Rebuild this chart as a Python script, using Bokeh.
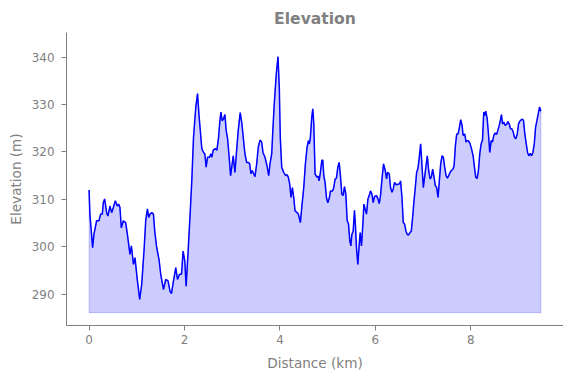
from bokeh.plotting import figure
from bokeh.models import Range1d, FixedTicker
from bokeh.embed import file_html
from bokeh.resources import INLINE

distance_km = [
    0.000, 0.017, 0.074, 0.101, 0.158, 0.206, 0.242, 0.277, 0.298, 0.326,
    0.368, 0.395, 0.437, 0.473, 0.508, 0.550, 0.592, 0.620, 0.647, 0.676,
    0.718, 0.767, 0.803, 0.857, 0.887, 0.929, 0.962, 1.013, 1.061, 1.103,
    1.151, 1.187, 1.223, 1.250, 1.277, 1.313, 1.349, 1.376, 1.418, 1.466,
    1.502, 1.559, 1.607, 1.655, 1.697, 1.727, 1.769, 1.817, 1.853, 1.895,
    1.937, 1.971, 2.006, 2.034, 2.076, 2.118, 2.153, 2.189, 2.237, 2.273,
    2.307, 2.328, 2.363, 2.399, 2.426, 2.454, 2.483, 2.525, 2.553, 2.574,
    2.601, 2.643, 2.679, 2.714, 2.742, 2.763, 2.790, 2.819, 2.847, 2.874,
    2.903, 2.937, 2.966, 2.994, 3.021, 3.057, 3.092, 3.126, 3.168, 3.204,
    3.231, 3.267, 3.303, 3.336, 3.366, 3.393, 3.420, 3.450, 3.477, 3.513,
    3.546, 3.582, 3.618, 3.645, 3.687, 3.729, 3.765, 3.792, 3.828, 3.855,
    3.882, 3.924, 3.960, 3.987, 4.008, 4.038, 4.080, 4.122, 4.149, 4.176,
    4.206, 4.233, 4.261, 4.290, 4.317, 4.359, 4.387, 4.429, 4.458, 4.500,
    4.534, 4.569, 4.597, 4.618, 4.639, 4.668, 4.689, 4.710, 4.737, 4.773,
    4.800, 4.821, 4.849, 4.878, 4.899, 4.920, 4.947, 4.975, 5.004, 5.038,
    5.059, 5.095, 5.122, 5.158, 5.185, 5.214, 5.242, 5.269, 5.298, 5.326,
    5.353, 5.382, 5.410, 5.437, 5.466, 5.487, 5.508, 5.536, 5.563, 5.584,
    5.605, 5.634, 5.662, 5.683, 5.710, 5.739, 5.761, 5.788, 5.815, 5.845,
    5.872, 5.899, 5.929, 5.956, 5.983, 6.025, 6.055, 6.082, 6.109, 6.139,
    6.172, 6.208, 6.235, 6.256, 6.292, 6.319, 6.349, 6.376, 6.403, 6.439,
    6.475, 6.508, 6.529, 6.559, 6.586, 6.613, 6.643, 6.670, 6.697, 6.727,
    6.754, 6.782, 6.811, 6.838, 6.866, 6.895, 6.922, 6.950, 6.979, 7.006,
    7.033, 7.063, 7.090, 7.118, 7.147, 7.174, 7.202, 7.231, 7.258, 7.286,
    7.315, 7.342, 7.370, 7.399, 7.426, 7.454, 7.483, 7.511, 7.538, 7.567,
    7.595, 7.630, 7.651, 7.679, 7.706, 7.735, 7.763, 7.790, 7.819, 7.840,
    7.874, 7.903, 7.931, 7.958, 7.987, 8.015, 8.050, 8.078, 8.105, 8.134,
    8.162, 8.189, 8.218, 8.246, 8.273, 8.294, 8.315, 8.345, 8.372, 8.399,
    8.429, 8.456, 8.483, 8.513, 8.540, 8.567, 8.597, 8.624, 8.645, 8.666,
    8.693, 8.723, 8.750, 8.777, 8.807, 8.834, 8.861, 8.891, 8.918, 8.946,
    8.975, 9.002, 9.029, 9.059, 9.086, 9.107, 9.134, 9.164, 9.191, 9.218,
    9.248, 9.275, 9.303, 9.332, 9.359, 9.387, 9.416, 9.443, 9.471,
]

elevation_m = [
    312.0, 306.9, 299.8, 302.6, 305.5, 305.5, 306.9, 306.9, 309.3, 310.1,
    307.2, 306.5, 308.6, 307.2, 308.3, 309.7, 308.6, 309.0, 308.3, 304.0,
    305.5, 305.1, 302.6, 298.4, 300.2, 296.3, 297.7, 292.8, 288.9, 292.1,
    299.1, 305.5, 308.0, 306.2, 306.9, 307.2, 306.9, 303.3, 299.8, 297.3,
    294.2, 291.0, 293.1, 292.8, 290.6, 290.1, 292.8, 295.6, 293.1, 294.2,
    294.2, 299.1, 297.0, 291.7, 299.1, 306.9, 314.0, 323.1, 329.5, 332.3,
    327.4, 324.9, 320.7, 319.9, 319.6, 316.8, 318.9, 318.9, 319.6, 318.9,
    320.4, 320.7, 320.4, 323.1, 326.6, 328.4, 326.6, 327.0, 327.9, 324.5,
    322.8, 318.9, 315.0, 317.1, 319.2, 315.7, 320.3, 324.5, 328.3, 325.9,
    323.1, 319.6, 317.8, 317.8, 317.5, 315.4, 316.1, 315.4, 314.8, 317.5,
    321.0, 322.5, 322.1, 319.9, 318.9, 317.1, 315.0, 317.5, 319.6, 325.2,
    330.2, 336.5, 340.1, 333.7, 323.1, 316.8, 315.7, 315.0, 315.2, 314.7,
    313.2, 310.4, 312.5, 310.4, 307.6, 307.2, 306.9, 305.1, 308.3, 312.5,
    317.5, 321.0, 322.4, 321.7, 323.1, 327.4, 329.1, 326.0, 315.4, 314.7,
    314.9, 313.9, 315.7, 318.2, 318.3, 315.0, 313.6, 310.4, 309.3, 310.4,
    311.8, 311.7, 312.2, 314.3, 314.5, 316.8, 317.8, 315.0, 311.1, 310.8,
    312.7, 311.1, 305.5, 304.9, 301.2, 300.2, 302.6, 303.3, 307.7, 304.4,
    299.8, 296.3, 300.5, 303.0, 300.2, 304.8, 309.0, 307.9, 306.9, 310.1,
    310.8, 311.8, 311.1, 309.3, 310.6, 310.8, 310.1, 309.1, 310.8, 314.3,
    317.5, 316.1, 314.3, 315.7, 315.4, 312.5, 311.5, 312.2, 313.6, 313.1,
    313.2, 313.3, 313.9, 310.4, 305.1, 304.8, 303.3, 302.6, 302.5, 303.0,
    303.3, 306.2, 309.7, 312.5, 315.7, 316.6, 318.9, 321.7, 317.0, 312.5,
    314.7, 317.1, 319.2, 316.1, 314.3, 314.7, 316.4, 314.7, 312.9, 312.5,
    310.4, 313.9, 317.5, 319.2, 318.9, 316.8, 315.0, 314.5, 315.0, 315.7,
    316.1, 316.4, 317.1, 321.4, 323.8, 323.8, 325.2, 326.8, 325.6, 323.5,
    323.8, 322.1, 322.4, 322.3, 321.7, 320.7, 319.2, 316.8, 314.7, 314.4,
    316.1, 319.6, 321.7, 322.5, 328.4, 327.7, 328.6, 327.0, 323.8, 319.9,
    322.4, 322.1, 323.5, 324.0, 323.7, 324.5, 325.6, 326.8, 327.9, 325.9,
    326.3, 325.6, 325.8, 326.4, 325.9, 324.9, 324.9, 324.2, 323.1, 322.8,
    323.8, 325.9, 326.5, 326.8, 326.9, 326.6, 323.8, 321.7, 319.9, 319.2,
    319.7, 319.2, 319.9, 321.7, 325.2, 326.6, 328.1, 329.5, 328.6,
]

fill_base_m = 286.1
x_ticks = [0, 2, 4, 6, 8]
y_ticks = [290, 300, 310, 320, 330, 340]

TEXT = "#808080"
FONT = "DejaVu Sans"

p = figure(width=563, height=373, output_backend="svg", toolbar_location=None,
           x_range=Range1d(-0.4735, 9.9445), y_range=Range1d(283.4, 345.2),
           min_border_left=66, min_border_right=0, min_border_top=32, min_border_bottom=48,
           title="Elevation")
p.outline_line_color = None
p.grid.grid_line_color = None
p.background_fill_color = "white"
p.border_fill_color = "white"

p.title.align = "center"
p.title.text_color = TEXT
p.title.text_font = FONT
p.title.text_font_style = "bold"
p.title.text_font_size = "15.6px"
p.title.standoff = 9

# fill polygon
px = list(distance_km) + [distance_km[-1], distance_km[0]]
py = list(elevation_m) + [fill_base_m, fill_base_m]
p.patch(px, py, fill_color="blue", fill_alpha=0.2, line_color="blue", line_alpha=0.2, line_width=1)
p.line(distance_km, elevation_m, line_color="blue", line_width=1.5)

for ax in (p.xaxis[0], p.yaxis[0]):
    ax.axis_line_color = TEXT
    ax.major_tick_line_color = TEXT
    ax.major_tick_out = 5
    ax.major_tick_in = 0
    ax.minor_tick_line_color = None
    ax.major_label_text_color = TEXT
    ax.major_label_text_font = FONT
    ax.major_label_text_font_size = "11.9px"
    ax.axis_label_text_color = TEXT
    ax.axis_label_text_font = FONT
    ax.axis_label_text_font_size = "13.6px"
    ax.axis_label_text_font_style = "normal"

p.xaxis.ticker = FixedTicker(ticks=x_ticks)
p.yaxis.ticker = FixedTicker(ticks=y_ticks)
p.xaxis.axis_label = "Distance (km)"
p.yaxis.axis_label = "Elevation (m)"
p.xaxis.major_label_standoff = 4
p.yaxis.major_label_standoff = 7
p.xaxis.axis_label_standoff = 8
p.yaxis.axis_label_standoff = 5

open("out.html", "w").write(file_html(p, INLINE))
